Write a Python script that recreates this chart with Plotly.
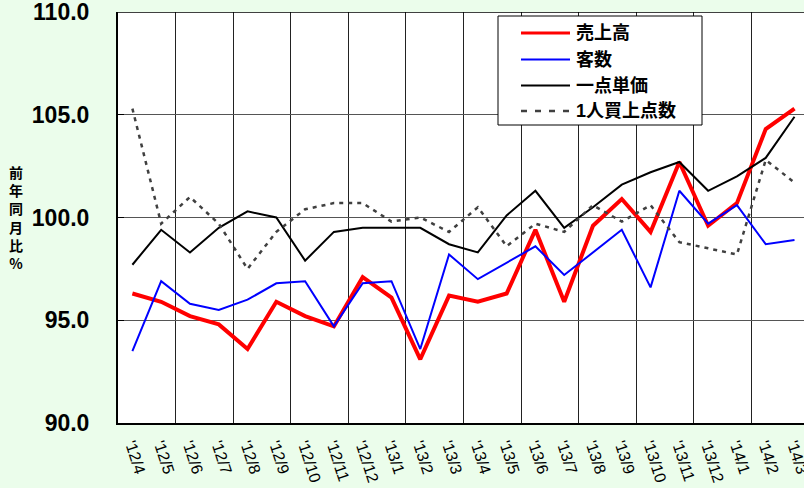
import plotly.graph_objects as go

months = ["'12/4", "'12/5", "'12/6", "'12/7", "'12/8", "'12/9", "'12/10", "'12/11", "'12/12",
          "'13/1", "'13/2", "'13/3", "'13/4", "'13/5", "'13/6", "'13/7", "'13/8", "'13/9",
          "'13/10", "'13/11", "'13/12", "'14/1", "'14/2", "'14/3"]

sales = [96.3, 95.9, 95.2, 94.8, 93.6, 95.9, 95.2, 94.7, 97.1, 96.1, 93.1, 96.2,
         95.9, 96.3, 99.4, 95.9, 99.6, 100.9, 99.3, 102.7, 99.6, 100.7, 104.3, 105.3]
customers = [93.5, 96.9, 95.8, 95.5, 96.0, 96.8, 96.9, 94.7, 96.8, 96.9, 93.6, 98.2,
             97.0, 97.8, 98.6, 97.2, 98.3, 99.4, 96.6, 101.3, 99.7, 100.6, 98.7, 98.9]
unit_price = [97.7, 99.4, 98.3, 99.5, 100.3, 100.0, 97.9, 99.3, 99.5, 99.5, 99.5, 98.7,
              98.3, 100.1, 101.3, 99.5, 100.5, 101.6, 102.2, 102.7, 101.3, 102.0, 102.9, 104.9]
items_per_customer = [105.3, 99.7, 101.0, 99.7, 97.5, 99.3, 100.4, 100.7, 100.7, 99.8, 100.0, 99.3,
                      100.5, 98.6, 99.7, 99.3, 100.6, 99.8, 100.6, 98.8, 98.5, 98.2, 102.8, 101.7]

series_names = ["売上高", "客数", "一点単価", "1人買上点数"]
series_colors = ["#ff0000", "#0000ff", "#000000", "#404040"]
series_widths = [4, 2, 2, 2.5]
series_dash = ["solid", "solid", "solid", "4px,5px"]
series_values = [sales, customers, unit_price, items_per_customer]

y_ticks = [90, 95, 100, 105, 110]
y_tick_text = ["90.0", "95.0", "100.0", "105.0", "110.0"]

x = list(range(len(months)))

W, H = 804, 488
ML, MR, MT, MB = 118, 0, 12, 65
PW, PH = W - ML - MR, H - MT - MB


def px_x(p):
    return (p - ML) / PW


def px_y(p):
    return (H - MB - p) / PH


fig = go.Figure()
for name, vals, col, wd, ds in zip(series_names, series_values, series_colors, series_widths, series_dash):
    fig.add_trace(go.Scatter(x=x, y=vals, mode="lines", name=name, showlegend=False,
                             line=dict(color=col, width=wd, dash=ds)))

fig.update_layout(
    width=W, height=H,
    margin=dict(l=ML, r=MR, t=MT, b=MB, autoexpand=False),
    paper_bgcolor="#ebfdeb",
    plot_bgcolor="#ffffff",
    showlegend=False,
    xaxis=dict(
        range=[-0.5, 23.33],
        tickmode="array", tickvals=x, ticktext=months,
        tickangle=72,
        tickfont=dict(family="Liberation Sans, Arial", size=16, color="#000000"),
        showgrid=False, zeroline=False,
        showline=True, linecolor="#000000", linewidth=2,
        ticks="", ticklabelstandoff=4, ticklabeloverflow="allow",
        minor=dict(tick0=1.5, dtick=2, showgrid=True, gridcolor="#222222", gridwidth=1),
        automargin=False,
    ),
    yaxis=dict(
        range=[90, 110],
        tickmode="array", tickvals=y_ticks, ticktext=y_tick_text,
        tickfont=dict(family="Liberation Sans, Arial", size=23, color="#000000", weight="bold"),
        showgrid=True, gridcolor="#555555", gridwidth=1,
        zeroline=False,
        showline=True, linecolor="#000000", linewidth=2, mirror=False,
        ticks="inside", ticklen=6, tickcolor="#000000", tickwidth=1,
        ticklabelstandoff=22, ticklabeloverflow="allow",
        automargin=False,
    ),
)

# top border of the plot area at 110
fig.add_shape(type="line", xref="paper", yref="y", x0=0, x1=1, y0=110, y1=110,
              line=dict(color="#000000", width=1.5))

# legend box drawn by hand to match the original layout
fig.add_shape(type="rect", xref="paper", yref="paper",
              x0=px_x(498), x1=px_x(702), y0=px_y(125), y1=px_y(16),
              fillcolor="#ffffff", line=dict(color="#000000", width=1), layer="above")
row_y = [33, 59.5, 85.5, 111]
for name, col, wd, ds, ry in zip(series_names, series_colors, series_widths, series_dash, row_y):
    fig.add_shape(type="line", xref="paper", yref="paper",
                  x0=px_x(521), x1=px_x(570), y0=px_y(ry), y1=px_y(ry),
                  line=dict(color=col, width=min(wd, 3) if wd > 2 else wd,
                            dash="6px,8px" if ds != "solid" else "solid"),
                  layer="above")
    fig.add_annotation(text=name, xref="paper", yref="paper",
                       x=px_x(574), y=px_y(ry), xanchor="left", yanchor="middle",
                       showarrow=False,
                       font=dict(family="Liberation Sans, Noto Sans CJK JP", size=18,
                                 color="#000000", weight="bold"))

fig.add_annotation(
    text="前<br>年<br>同<br>月<br>比<br>%",
    xref="paper", yref="paper", x=-0.149, y=0.5, xanchor="center", yanchor="middle",
    showarrow=False, align="center",
    font=dict(family="Noto Sans CJK JP", size=14, color="#000000", weight="bold"),
)

fig.write_html(
    "out.html",
    config={"displayModeBar": False},
    post_script="document.body.style.margin='0';document.body.style.overflow='hidden';",
)
